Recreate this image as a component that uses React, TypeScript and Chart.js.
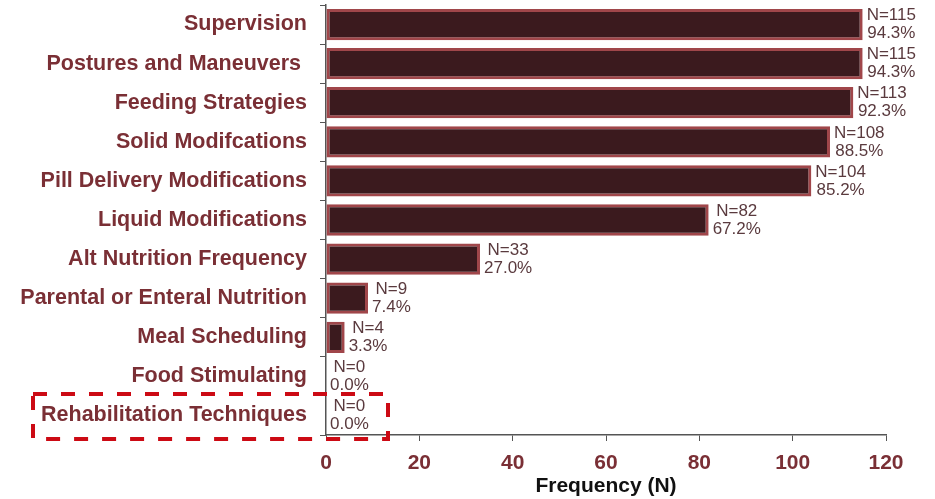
import React, { useEffect, useRef } from "react";
import { Chart, registerables } from "chart.js";

Chart.register(...registerables);

const categories = [
  "Supervision",
  "Postures and Maneuvers ",
  "Feeding Strategies",
  "Solid Modifcations",
  "Pill Delivery Modifications",
  "Liquid Modifications",
  "Alt Nutrition Frequency",
  "Parental or Enteral Nutrition",
  "Meal Scheduling",
  "Food Stimulating",
  "Rehabilitation Techniques",
];
const counts = [115, 115, 113, 108, 104, 82, 33, 9, 4, 0, 0];
const percents = ["94.3%", "94.3%", "92.3%", "88.5%", "85.2%", "67.2%", "27.0%", "7.4%", "3.3%", "0.0%", "0.0%"];
const xTicks = [0, 20, 40, 60, 80, 100, 120];
const highlightIndex = 10;

const TEXT_COLOR = "#7a2f35";
const FONT = "'Liberation Sans', Arial, sans-serif";

const labelPlugin = {
  id: "valueLabels",
  afterDatasetsDraw(chart: any) {
    const ctx = chart.ctx;
    const meta = chart.getDatasetMeta(0);
    ctx.save();
    ctx.font = `17px ${FONT}`;
    ctx.fillStyle = "#5a3a3e";
    ctx.textBaseline = "middle";
    ctx.textAlign = "center";
    meta.data.forEach((bar: any, i: number) => {
      const l1 = `N=${counts[i]}`;
      const l2 = percents[i];
      const w = Math.max(ctx.measureText(l1).width, ctx.measureText(l2).width);
      const cx = bar.x + 4 + w / 2;
      ctx.fillText(l1, cx, bar.y - 9);
      ctx.fillText(l2, cx, bar.y + 9);
    });
    ctx.restore();
  },
};

const boxPlugin = {
  id: "highlightBox",
  afterDraw(chart: any) {
    const ctx = chart.ctx;
    const y = chart.scales.y;
    const x = chart.scales.x;
    const cy = y.getPixelForValue(highlightIndex);
    const band = (y.bottom - y.top) / categories.length;
    const top = cy - band / 2 - 2;
    const bottom = cy + band / 2 + 4;
    const left = 33;
    const right = x.getPixelForValue(0) + 62;
    ctx.save();
    ctx.strokeStyle = "#cc0a14";
    ctx.lineWidth = 4;
    ctx.setLineDash([14, 14]);
    ctx.strokeRect(left, top, right - left, bottom - top);
    ctx.restore();
  },
};

export default function App() {
  const ref = useRef<HTMLCanvasElement>(null);
  useEffect(() => {
    if (!ref.current) return;
    const chart = new Chart(ref.current, {
      type: "bar",
      data: {
        labels: categories,
        datasets: [
          {
            data: counts,
            backgroundColor: "#3b1a1e",
            borderColor: "#a0464a",
            borderWidth: 3,
            categoryPercentage: 0.8,
            barPercentage: 1,
            borderSkipped: false,
          },
        ],
      },
      options: {
        indexAxis: "y",
        animation: false,
        responsive: false,
        layout: { padding: { top: 5, right: 49, left: 0, bottom: 0 } },
        plugins: { legend: { display: false }, tooltip: { enabled: false } },
        scales: {
          x: {
            min: 0,
            max: 120,
            afterBuildTicks: (s: any) => {
              s.ticks = xTicks.map((v) => ({ value: v }));
            },
            afterFit: (s: any) => {
              s.height = 64;
              s.paddingLeft = 0;
              s.paddingRight = 0;
            },
            grid: { drawOnChartArea: false, drawTicks: true, tickLength: 6, color: "#555" },
            border: { display: true, color: "#555", width: 1.5 },
            ticks: {
              color: TEXT_COLOR,
              font: { family: FONT, size: 21, weight: "bold" },
              padding: 10,
            },
            title: {
              display: true,
              text: "Frequency (N)",
              color: "#111",
              font: { family: FONT, size: 21, weight: "bold" },
              padding: { top: 2, bottom: 0 },
            },
          },
          y: {
            afterFit: (s: any) => {
              s.width = 326;
              s.paddingTop = 0;
              s.paddingBottom = 0;
            },
            grid: { drawOnChartArea: false, drawTicks: true, tickLength: 6, color: "#555", offset: true },
            border: { display: true, color: "#555", width: 1.5 },
            ticks: {
              color: TEXT_COLOR,
              font: { family: FONT, size: 21.5, weight: "bold" },
              padding: 13,
              autoSkip: false,
            },
          },
        },
      },
      plugins: [labelPlugin, boxPlugin],
    });
    return () => chart.destroy();
  }, []);
  return (
    <div style={{ position: "fixed", left: 0, top: 0, width: 935, height: 499, background: "#fff" }}>
      <canvas ref={ref} width={935} height={499} style={{ width: 935, height: 499 }} />
    </div>
  );
}
